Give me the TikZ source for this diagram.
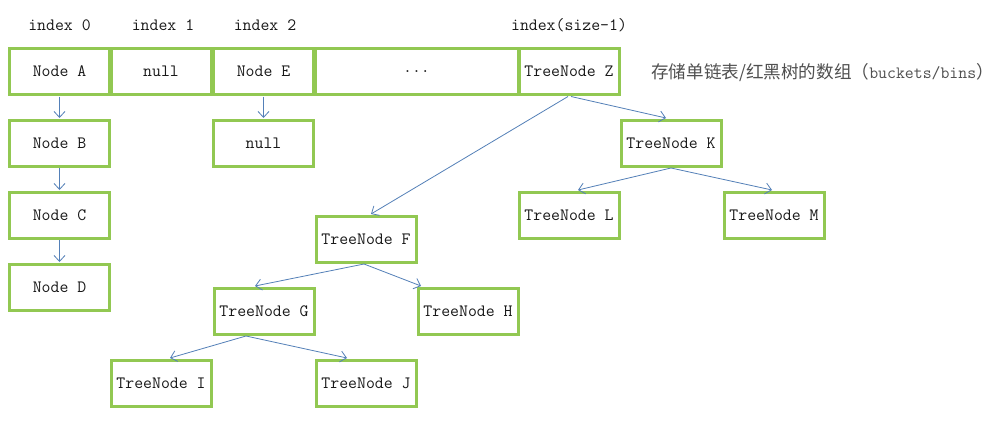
\documentclass[tikz,border=0pt]{standalone}
\usepackage{fontspec}
\newfontfamily\cjk{Noto Sans CJK SC}
\usetikzlibrary{arrows.meta}
\definecolor{boxgreen}{RGB}{146,200,82}
\definecolor{arrowblue}{RGB}{84,128,184}
\definecolor{notegray}{RGB}{80,80,80}
\tikzset{
  box/.style={draw=boxgreen, line width=3pt, minimum width=100pt, minimum height=46pt,
    inner sep=0pt, outer sep=2pt, font=\ttfamily\fontsize{17.3}{19}\selectfont, text=black!90},
  lbl/.style={font=\ttfamily\fontsize{17.3}{19}\selectfont, text=black!90, inner sep=0pt},
  link/.style={draw=arrowblue, line width=0.8pt, -{Straight Barb[length=6pt,width=11pt,line width=0.8pt]}}
}
\begin{document}
\begin{tikzpicture}[x=1pt,y=-1pt]
\useasboundingbox[fill=white] (0,0) rectangle (1000,420);
% array
\node[box] (a) at (59.5,71.5) {Node A};
\node[box] (n1) at (161,71.5) {null};
\node[box] (e) at (263.5,71.5) {Node E};
\node[box, minimum width=203pt] (dots) at (416.5,71.5) {...};
\node[box] (z) at (569,71.5) {TreeNode Z};
% index labels
\node[lbl] (i0) at (59.5,25) {index 0};
\node[lbl] (i1) at (163,25) {index 1};
\node[lbl] (i2) at (265,25) {index 2};
\node[lbl] (is) at (569,25) {index(size-1)};
\node[lbl, anchor=west, text=notegray] (note) at (651,73) {{\cjk\fontsize{17.6}{20}\selectfont 存储单链表/红黑树的数组（}buckets/bins{\cjk\fontsize{17.6}{20}\selectfont ）}};
% lists
\node[box] (b) at (59.5,143) {Node B};
\node[box] (c) at (59.5,215) {Node C};
\node[box] (d) at (59.5,287) {Node D};
\node[box] (n2) at (263.5,143) {null};
% tree
\node[box] (k) at (671,143) {TreeNode K};
\node[box] (l) at (569,215) {TreeNode L};
\node[box] (m) at (774,215) {TreeNode M};
\node[box] (f) at (366,239) {TreeNode F};
\node[box] (g) at (264,311) {TreeNode G};
\node[box] (h) at (468,311) {TreeNode H};
\node[box] (ii) at (161,383) {TreeNode I};
\node[box] (j) at (366,383) {TreeNode J};
% links
\draw[link] (a.south) -- (b.north);
\draw[link] (b.south) -- (c.north);
\draw[link] (c.south) -- (d.north);
\draw[link] (e.south) -- (n2.north);
\draw[link] ([xshift=-1pt]z.south) -- ([xshift=5pt]f.north);
\draw[link] ([xshift=2pt]z.south) -- ([xshift=-5pt]k.north);
\draw[link] (k.south) -- ([xshift=9pt]l.north);
\draw[link] (k.south) -- ([xshift=-2pt]m.north);
\draw[link] ([xshift=-2pt]f.south) -- ([xshift=-9pt]g.north);
\draw[link] ([xshift=-2pt]f.south) -- ([xshift=-47pt]h.north);
\draw[link] ([xshift=-18pt]g.south) -- ([xshift=9pt]ii.north);
\draw[link] ([xshift=-18pt]g.south) -- ([xshift=-19pt]j.north);
\end{tikzpicture}
\end{document}
